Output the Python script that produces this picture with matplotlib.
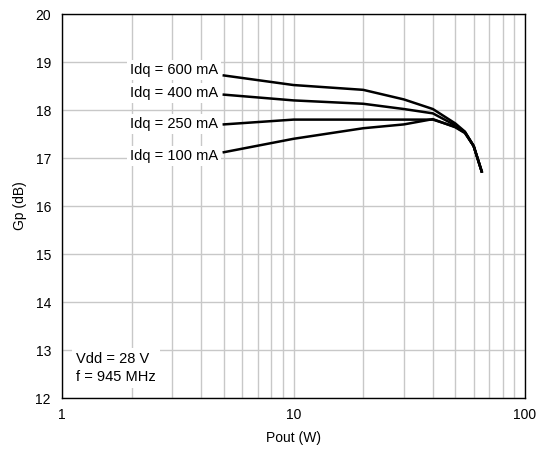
import matplotlib
matplotlib.use("Agg")
import matplotlib.pyplot as plt
from matplotlib.ticker import LogLocator, NullFormatter, FixedLocator, FixedFormatter

plt.rcParams['font.family'] = ['Liberation Sans', 'DejaVu Sans']

# Gain vs output power for several quiescent drain currents
pout_600 = [5, 10, 20, 30, 40, 50, 55, 60, 65]
gp_600 = [18.72, 18.52, 18.42, 18.22, 18.02, 17.72, 17.55, 17.25, 16.72]

pout_400 = [5, 10, 20, 30, 40, 50, 55, 60, 65]
gp_400 = [18.32, 18.2, 18.13, 18.02, 17.93, 17.68, 17.54, 17.25, 16.72]

pout_250 = [5, 10, 20, 30, 40, 50, 55, 60, 65]
gp_250 = [17.7, 17.8, 17.8, 17.8, 17.8, 17.65, 17.53, 17.25, 16.72]

pout_100 = [5, 10, 20, 30, 40, 50, 55, 60, 65]
gp_100 = [17.12, 17.4, 17.62, 17.7, 17.81, 17.64, 17.52, 17.25, 16.72]

series = [
    ("Idq = 600 mA", pout_600, gp_600, 4),
    ("Idq = 400 mA", pout_400, gp_400, 1),
    ("Idq = 250 mA", pout_250, gp_250, 0),
    ("Idq = 100 mA", pout_100, gp_100, -3),
]

y_ticks = [12, 13, 14, 15, 16, 17, 18, 19, 20]
x_ticks = [1, 10, 100]
x_tick_labels = ["1", "10", "100"]

fig = plt.figure(figsize=(5.43, 4.54), dpi=100)
ax = fig.add_axes([62 / 543, 56 / 454, 463 / 543, 384 / 454])

ax.set_xscale('log')
ax.set_xlim(1, 100)
ax.set_ylim(12, 20)

ax.xaxis.set_major_locator(FixedLocator(x_ticks))
ax.xaxis.set_major_formatter(FixedFormatter(x_tick_labels))
ax.xaxis.set_minor_locator(LogLocator(base=10, subs=range(2, 10)))
ax.xaxis.set_minor_formatter(NullFormatter())
ax.set_yticks(y_ticks)

ax.grid(True, which='both', axis='x', color='#c8c8c8', linewidth=1.0)
ax.grid(True, which='major', axis='y', color='#c8c8c8', linewidth=1.0)
ax.set_axisbelow(True)

ax.tick_params(which='both', length=0, labelsize=10, colors='black')
ax.tick_params(axis='x', pad=7)
ax.tick_params(axis='y', pad=8)

for spine in ax.spines.values():
    spine.set_linewidth(1.0)
    spine.set_color('black')

for label, x, y, dy in series:
    ax.plot(x, y, color='black', linewidth=1.8, solid_joinstyle='round')
    ax.annotate(label, xy=(x[0], y[0]), xytext=(-4, dy), textcoords='offset points',
                ha='right', va='center', fontsize=10.5,
                bbox=dict(boxstyle='square,pad=0.2', facecolor='white', edgecolor='none'))

ax.text(0.03, 0.078, "Vdd = 28 V\nf = 945 MHz", transform=ax.transAxes,
        ha='left', va='center', fontsize=10.5, linespacing=1.35,
        bbox=dict(boxstyle='square,pad=0.3', facecolor='white', edgecolor='none'))

ax.set_xlabel("Pout (W)", fontsize=10, labelpad=7)
ax.set_ylabel("Gp (dB)", fontsize=10, labelpad=6)

fig.savefig("out.png", dpi=100)
